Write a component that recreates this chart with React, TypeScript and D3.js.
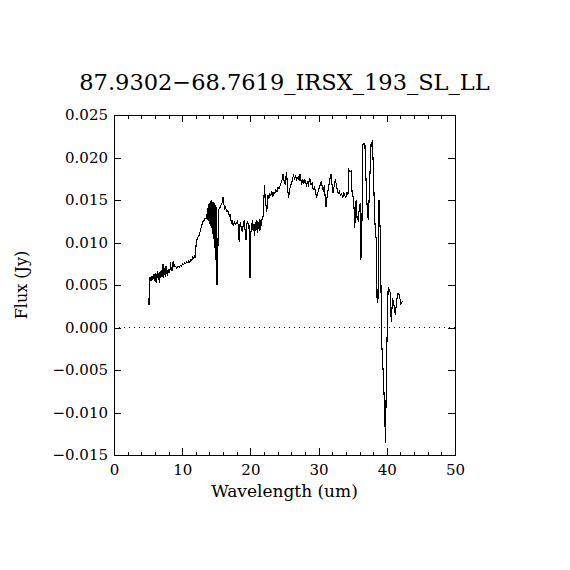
import { useRef, useEffect } from "react";
import * as d3 from "d3";

const title = "87.9302\u221268.7619_IRSX_193_SL_LL";
const xLabel = "Wavelength (um)";
const yLabel = "Flux (Jy)";

const xTicks = [0, 10, 20, 30, 40, 50];
const xMinorTicks = [2, 4, 6, 8, 12, 14, 16, 18, 22, 24, 26, 28, 32, 34, 36, 38, 42, 44, 46, 48];
const yTicks = [-0.015, -0.01, -0.005, 0, 0.005, 0.01, 0.015, 0.02, 0.025];

// [wavelength um, flux Jy], one list per stretch of the spectrum
const blueEnd: [number, number][] = [
  [5.13, 0.0027], [5.18, 0.0058], [5.23, 0.0054], [5.28, 0.0059], [5.33, 0.0056],
  [5.38, 0.0058], [5.43, 0.0055], [5.48, 0.006], [5.53, 0.0057], [5.58, 0.0059],
  [5.63, 0.0058], [5.68, 0.0061], [5.73, 0.0057], [5.78, 0.0062], [5.83, 0.0059],
  [5.88, 0.0063], [5.93, 0.0055], [5.98, 0.0062], [6.03, 0.0058], [6.08, 0.0064],
  [6.13, 0.006], [6.18, 0.0052], [6.23, 0.0063], [6.28, 0.0059], [6.33, 0.0065],
  [6.38, 0.0058], [6.43, 0.0066], [6.48, 0.0056], [6.53, 0.0064], [6.58, 0.006],
  [6.63, 0.0052], [6.68, 0.0065], [6.73, 0.0061], [6.78, 0.0067], [6.83, 0.0058],
  [6.88, 0.0066], [6.93, 0.0062], [6.98, 0.0068], [7.03, 0.0059], [7.08, 0.0066],
  [7.13, 0.0063], [7.18, 0.0075], [7.23, 0.0061], [7.28, 0.0058], [7.33, 0.0069],
  [7.38, 0.0062], [7.43, 0.007], [7.48, 0.0064], [7.53, 0.006], [7.58, 0.0068],
  [7.63, 0.0072], [7.68, 0.0063], [7.73, 0.0069], [7.78, 0.0065], [7.83, 0.0061],
  [7.88, 0.0068], [7.93, 0.0064], [7.98, 0.0069], [8.03, 0.0066], [8.08, 0.0068],
  [8.13, 0.0064], [8.2, 0.0067], [8.28, 0.0077], [8.35, 0.0071], [8.42, 0.0069],
  [8.5, 0.0066], [8.6, 0.0071], [8.67, 0.0078], [8.75, 0.0072], [8.85, 0.0073],
  [8.95, 0.0071], [9.05, 0.0072], [9.15, 0.007], [9.3, 0.0071], [9.45, 0.0072],
  [9.6, 0.0071], [9.75, 0.0073], [9.9, 0.0072], [10.05, 0.0075], [10.2, 0.0074],
  [10.35, 0.0076], [10.5, 0.0075], [10.65, 0.0077], [10.8, 0.0076], [10.95, 0.0078],
  [11.1, 0.0077], [11.25, 0.008], [11.4, 0.0079], [11.55, 0.0083], [11.7, 0.0081],
  [11.85, 0.0084], [11.95, 0.0082], [12.05, 0.01], [12.15, 0.0103], [12.3, 0.0106],
  [12.45, 0.0108], [12.6, 0.0112], [12.75, 0.0117], [12.9, 0.0121], [13.05, 0.0125],
  [13.2, 0.0126], [13.35, 0.0129], [13.5, 0.0128], [13.62, 0.0131],
];

// order overlap: the two orders alternate, which fills the band in black
const overlap: [number, number][] = [
  [13.7, 0.0138], [13.725, 0.0128], [13.75, 0.014], [13.775, 0.0127], [13.8, 0.0142],
  [13.825, 0.0126], [13.85, 0.0143], [13.875, 0.0126], [13.9, 0.0145], [13.925, 0.0125],
  [13.95, 0.0145], [13.975, 0.0124], [14.0, 0.0146], [14.025, 0.0123], [14.05, 0.0146],
  [14.075, 0.0122], [14.1, 0.0147], [14.125, 0.0121], [14.15, 0.0148], [14.175, 0.0121],
  [14.2, 0.0149], [14.225, 0.012], [14.25, 0.015], [14.275, 0.0119], [14.3, 0.015],
  [14.325, 0.0118], [14.35, 0.0149], [14.375, 0.0117], [14.4, 0.0148], [14.425, 0.0115],
  [14.45, 0.0147], [14.475, 0.0113], [14.5, 0.0147], [14.525, 0.011], [14.55, 0.0148],
  [14.575, 0.0107], [14.6, 0.0148], [14.625, 0.0104], [14.65, 0.0147], [14.675, 0.0101],
  [14.7, 0.0146], [14.725, 0.0097], [14.75, 0.0146], [14.775, 0.0094], [14.8, 0.0145],
  [14.825, 0.009], [14.85, 0.0144], [14.875, 0.0085], [14.9, 0.0143], [14.925, 0.008],
  [14.95, 0.0142], [14.975, 0.0073], [15.0, 0.014], [15.025, 0.0066], [15.05, 0.0139],
  [15.075, 0.0058], [15.1, 0.005], [15.15, 0.0051], [15.2, 0.007], [15.25, 0.01],
  [15.3, 0.013], [15.33, 0.0138],
];

const midRange: [number, number][] = [
  [15.45, 0.014], [15.6, 0.0142], [15.75, 0.0145], [15.9, 0.0148], [16.0, 0.0154],
  [16.1, 0.0146], [16.2, 0.014], [16.35, 0.0142], [16.5, 0.0137], [16.65, 0.0138],
  [16.8, 0.0134], [16.95, 0.0131], [17.05, 0.0132], [17.2, 0.0123], [17.35, 0.0125],
  [17.5, 0.0119], [17.65, 0.0124], [17.8, 0.0121], [17.95, 0.0122], [18.1, 0.0125],
  [18.25, 0.0119], [18.35, 0.0101], [18.5, 0.0124], [18.65, 0.0118], [18.8, 0.0113],
  [18.95, 0.0121], [19.1, 0.0126], [19.25, 0.0112], [19.35, 0.0103], [19.5, 0.0122],
  [19.6, 0.0125], [19.75, 0.0116], [19.85, 0.012], [19.95, 0.0058], [20.05, 0.011],
  [20.15, 0.0118], [20.3, 0.0126], [20.4, 0.0114], [20.5, 0.0122], [20.6, 0.0108],
  [20.7, 0.0124], [20.8, 0.0113], [20.9, 0.0127], [21.0, 0.0111], [21.1, 0.0125],
  [21.2, 0.0116], [21.3, 0.0128], [21.4, 0.0114], [21.5, 0.0126], [21.6, 0.0119],
  [21.75, 0.013], [21.9, 0.0131],
];

const redPlateau: [number, number][] = [
  [22.05, 0.0168], [22.2, 0.015], [22.4, 0.0136], [22.55, 0.0156], [22.7, 0.0152],
  [22.85, 0.0157], [23.0, 0.0155], [23.15, 0.016], [23.3, 0.0154], [23.45, 0.0159],
  [23.6, 0.0158], [23.75, 0.0162], [23.9, 0.016], [24.05, 0.0165], [24.2, 0.0163],
  [24.4, 0.0168], [24.6, 0.0172], [24.8, 0.0181], [24.95, 0.0172], [25.1, 0.0168],
  [25.3, 0.0183], [25.45, 0.0165], [25.6, 0.0152], [25.75, 0.0162], [25.9, 0.0167],
  [26.1, 0.0172], [26.3, 0.0179], [26.5, 0.0175], [26.65, 0.0178], [26.8, 0.0174],
  [27.0, 0.0177], [27.15, 0.0173], [27.3, 0.0181], [27.5, 0.0168], [27.7, 0.0174],
  [27.85, 0.017], [28.0, 0.0174], [28.2, 0.0167], [28.35, 0.0171], [28.5, 0.0168],
  [28.7, 0.0176], [28.9, 0.0168], [29.05, 0.017], [29.2, 0.0162], [29.4, 0.0165],
  [29.55, 0.016], [29.7, 0.0152], [29.85, 0.0158], [30.05, 0.0163], [30.2, 0.0167],
  [30.4, 0.0172], [30.55, 0.0165], [30.7, 0.016], [30.85, 0.0167], [31.0, 0.0148],
  [31.1, 0.0142], [31.25, 0.0155], [31.4, 0.0162], [31.6, 0.0172], [31.8, 0.0181],
  [31.95, 0.017], [32.1, 0.0158], [32.25, 0.0165], [32.45, 0.0174], [32.6, 0.0168],
  [32.75, 0.0161], [32.9, 0.0158], [33.05, 0.016], [33.2, 0.0155], [33.4, 0.0157],
  [33.55, 0.0153], [33.7, 0.0158], [33.85, 0.0155], [34.0, 0.0153], [34.15, 0.0158],
  [34.3, 0.0156],
];

const noisyTail: [number, number][] = [
  [34.45, 0.0185], [34.6, 0.0183], [34.75, 0.0184], [34.9, 0.016], [35.05, 0.0154],
  [35.2, 0.014], [35.3, 0.0117], [35.4, 0.0135], [35.5, 0.015], [35.65, 0.0128],
  [35.8, 0.0126], [35.95, 0.0138], [36.1, 0.0146], [36.2, 0.0079], [36.35, 0.012],
  [36.5, 0.0215], [36.65, 0.0217], [36.8, 0.0214], [36.95, 0.0174], [37.15, 0.0135],
  [37.3, 0.0126], [37.5, 0.0174], [37.7, 0.0217], [37.9, 0.0219], [38.0, 0.0193],
  [38.15, 0.015], [38.3, 0.0115], [38.45, 0.0103], [38.55, 0.0036], [38.7, 0.0029],
  [38.85, 0.015], [39.05, 0.011], [39.25, -0.0018], [39.5, -0.0058], [39.7, -0.0101],
  [39.8, -0.0136], [40.0, -0.0026], [40.2, 0.0048], [40.35, 0.0045], [40.5, 0.0041],
  [40.65, 0.0007], [40.85, 0.0035], [41.05, 0.0026], [41.25, 0.0015], [41.45, 0.0032],
  [41.65, 0.004], [41.85, 0.0038], [42.05, 0.0028], [42.25, 0.003], [42.4, 0.0031],
];

export default function App() {
  const svgRef = useRef<SVGSVGElement>(null);

  useEffect(() => {
    const svgEl = svgRef.current;
    if (!svgEl) return;

    const width = 570;
    const height = 570;
    const margin = { top: 115, right: 115, bottom: 115, left: 114 };
    const innerWidth = width - margin.left - margin.right;
    const innerHeight = height - margin.top - margin.bottom;
    const font = "'DejaVu Serif', serif";

    const svg = d3.select(svgEl).attr("width", width).attr("height", height);
    svg.selectAll("*").remove();

    svg.append("rect").attr("width", width).attr("height", height).attr("fill", "#fff");

    const x = d3.scaleLinear().domain([0, 50]).range([0, innerWidth]);
    const y = d3.scaleLinear().domain([-0.015, 0.025]).range([innerHeight, 0]);

    const g = svg
      .append("g")
      .attr("transform", `translate(${margin.left},${margin.top})`);

    // zero line
    g.append("line")
      .attr("x1", 0)
      .attr("x2", innerWidth)
      .attr("y1", y(0))
      .attr("y2", y(0))
      .attr("stroke", "#000")
      .attr("stroke-width", 1)
      .attr("stroke-dasharray", "1,4")
      .attr("shape-rendering", "crispEdges");

    // spectrum
    const spectrum = [...blueEnd, ...overlap, ...midRange, ...redPlateau, ...noisyTail];
    const lineGen = d3
      .line<[number, number]>()
      .x((d) => x(d[0]))
      .y((d) => y(d[1]));
    g.append("path")
      .datum(spectrum)
      .attr("fill", "none")
      .attr("stroke", "#000")
      .attr("stroke-width", 1.1)
      .attr("stroke-linejoin", "miter")
      .attr("shape-rendering", "crispEdges")
      .attr("d", lineGen);

    // frame
    g.append("rect")
      .attr("width", innerWidth)
      .attr("height", innerHeight)
      .attr("fill", "none")
      .attr("stroke", "#000")
      .attr("shape-rendering", "crispEdges");

    const major = 7;
    const minor = 3.5;

    const style = (sel: d3.Selection<SVGGElement, unknown, null, undefined>) => {
      sel.select(".domain").remove();
      sel.selectAll("line").attr("stroke", "#000").attr("shape-rendering", "crispEdges");
      sel.attr("font-family", font).attr("font-size", 15);
      sel.selectAll("text").attr("fill", "#000");
    };

    // bottom axis with labels
    g.append("g")
      .attr("transform", `translate(0,${innerHeight})`)
      .call(
        d3.axisBottom(x).tickValues(xTicks).tickSize(-major).tickPadding(9)
          .tickFormat(d3.format("d") as any)
      )
      .call(style);
    g.append("g")
      .attr("transform", `translate(0,${innerHeight})`)
      .call(d3.axisBottom(x).tickValues(xMinorTicks).tickSize(-minor).tickFormat(() => ""))
      .call(style);
    // top axis
    g.append("g")
      .call(d3.axisTop(x).tickValues(xTicks).tickSize(-major).tickFormat(() => ""))
      .call(style);
    g.append("g")
      .call(d3.axisTop(x).tickValues(xMinorTicks).tickSize(-minor).tickFormat(() => ""))
      .call(style);

    // left axis with labels
    g.append("g")
      .call(
        d3.axisLeft(y).tickValues(yTicks).tickSize(-major).tickPadding(6)
          .tickFormat(d3.format(".3f") as any)
      )
      .call(style);
    // right axis
    g.append("g")
      .attr("transform", `translate(${innerWidth},0)`)
      .call(d3.axisRight(y).tickValues(yTicks).tickSize(-major).tickFormat(() => ""))
      .call(style);

    // titles
    svg.append("text")
      .attr("x", margin.left + innerWidth / 2)
      .attr("y", 90)
      .attr("text-anchor", "middle")
      .attr("font-family", font)
      .attr("font-size", 22.5)
      .text(title);

    svg.append("text")
      .attr("x", margin.left + innerWidth / 2)
      .attr("y", 497)
      .attr("text-anchor", "middle")
      .attr("font-family", font)
      .attr("font-size", 17)
      .text(xLabel);

    svg.append("text")
      .attr("transform", `translate(27,${margin.top + innerHeight / 2}) rotate(-90)`)
      .attr("text-anchor", "middle")
      .attr("font-family", font)
      .attr("font-size", 16)
      .text(yLabel);
  }, []);

  return (
    <svg
      ref={svgRef}
      style={{ position: "absolute", left: 0, top: 0, display: "block" }}
    />
  );
}
